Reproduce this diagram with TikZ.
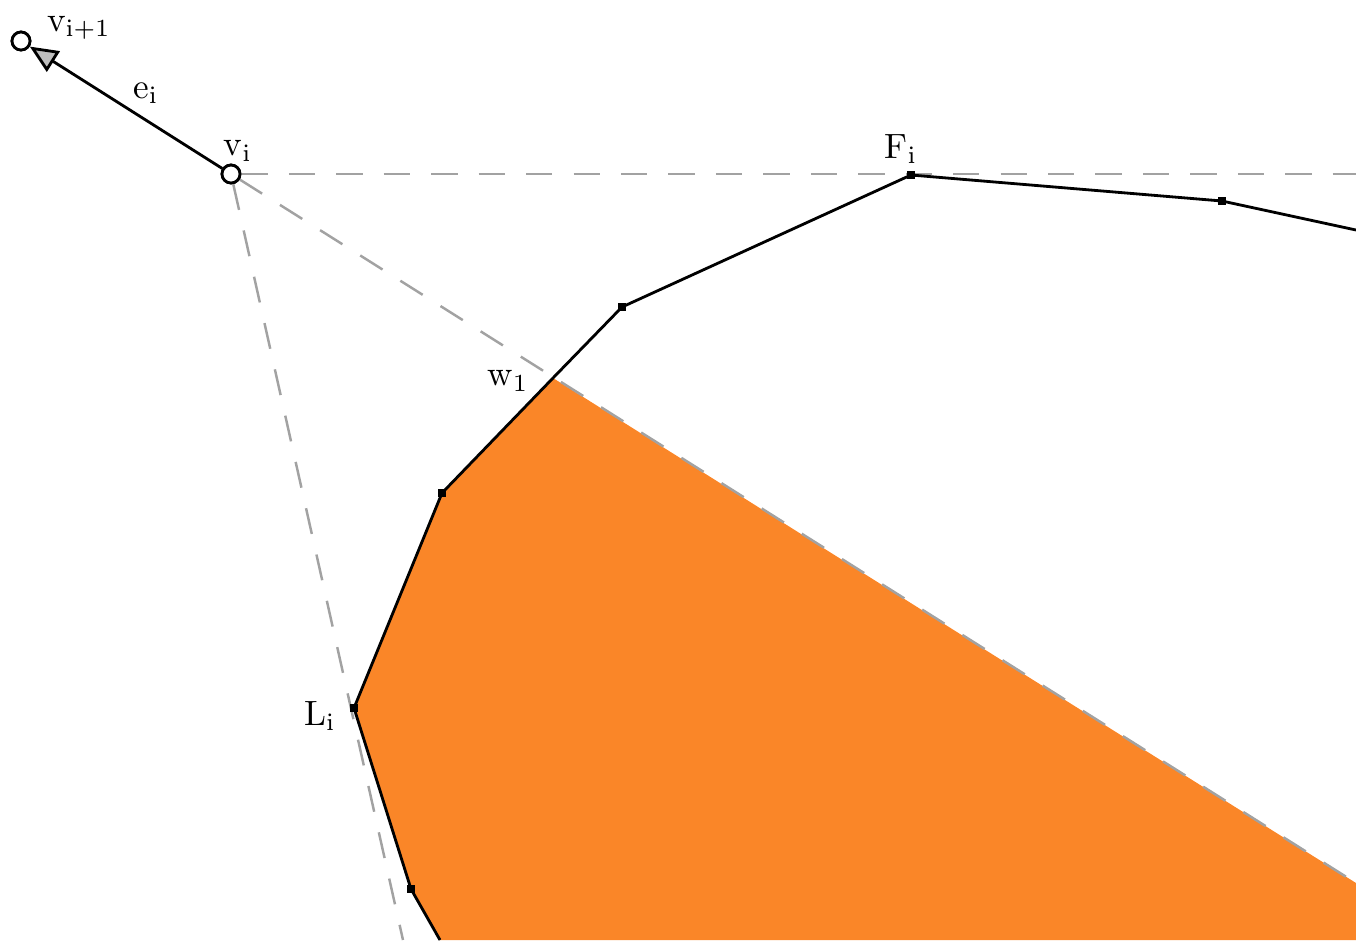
\documentclass[tikz,border=0pt]{standalone}
\usepackage{xcolor}
\usetikzlibrary{arrows.meta,calc}
\definecolor{Region}{HTML}{FA8628}
\definecolor{Guide}{HTML}{A2A2A2}

\begin{document}
\begin{tikzpicture}[
  vertex/.style={circle,fill=white,draw,line width=0.8pt,minimum size=1.8mm,inner sep=0pt},
  corner/.style={rectangle,fill=black,minimum size=0.8mm,inner sep=0pt},
  hull/.style={line width=0.8pt},
  guide/.style={Guide,line width=0.7pt,dash pattern=on 7.5pt off 6pt},
  label/.style={font=\normalsize}
]
\useasboundingbox (0,0) rectangle (13.56,-9.40);
\clip (0,0) rectangle (13.56,-9.40);

% edge e_i
\node[vertex] (vnext) at (0.21,-0.41) {};
\node[vertex] (vi) at (2.31,-1.74) {};

% hull chain
\coordinate (h0) at (13.56,-2.30);
\node[corner] (c1) at (12.22,-2.01) {};
\node[corner] (F) at (9.11,-1.75) {};
\node[corner] (c2) at (6.22,-3.07) {};
\coordinate (w1) at (5.53,-3.78);
\node[corner] (c3) at (4.42,-4.93) {};
\node[corner] (L) at (3.54,-7.08) {};
\node[corner] (c4) at (4.11,-8.89) {};
\coordinate (h1) at (4.40,-9.40);

% ends of the guides
\coordinate (gright) at (13.56,-1.74);
\coordinate (gdiag) at (13.56,-8.83);
\coordinate (gdown) at (4.03,-9.40);

\fill[Region] (w1) -- (c3.center) -- (L.center) -- (c4.center) -- (h1)
  -- (13.56,-9.40) -- (gdiag) -- cycle;

\draw[guide] (vi) -- (gright);
\draw[guide] (vi) -- (gdiag);
\draw[guide] (vi) -- (gdown);

\draw[hull] (h0) -- (c1.center) -- (F.center) -- (c2.center) -- (w1)
  -- (c3.center) -- (L.center) -- (c4.center) -- (h1);
\foreach \p in {c1,F,c2,c3,L,c4}
  \node[corner] at (\p) {};

\draw[hull,-{Triangle[length=2.8mm,width=2.4mm,fill=black!25]}] (vi) -- (vnext);
\node[vertex] at (vnext) {};
\node[vertex] at (vi) {};

\node[label] at (0.79,-0.28) {v$_{\mathrm{i+1}}$};
\node[label] at (1.46,-0.93) {e$_{\mathrm{i}}$};
\node[label] at (2.38,-1.51) {v$_{\mathrm{i}}$};
\node[label] at (9.01,-1.49) {F$_{\mathrm{i}}$};
\node[label] at (5.08,-3.81) {w$_{\mathrm{1}}$};
\node[label] at (3.20,-7.16) {L$_{\mathrm{i}}$};
\end{tikzpicture}
\end{document}
